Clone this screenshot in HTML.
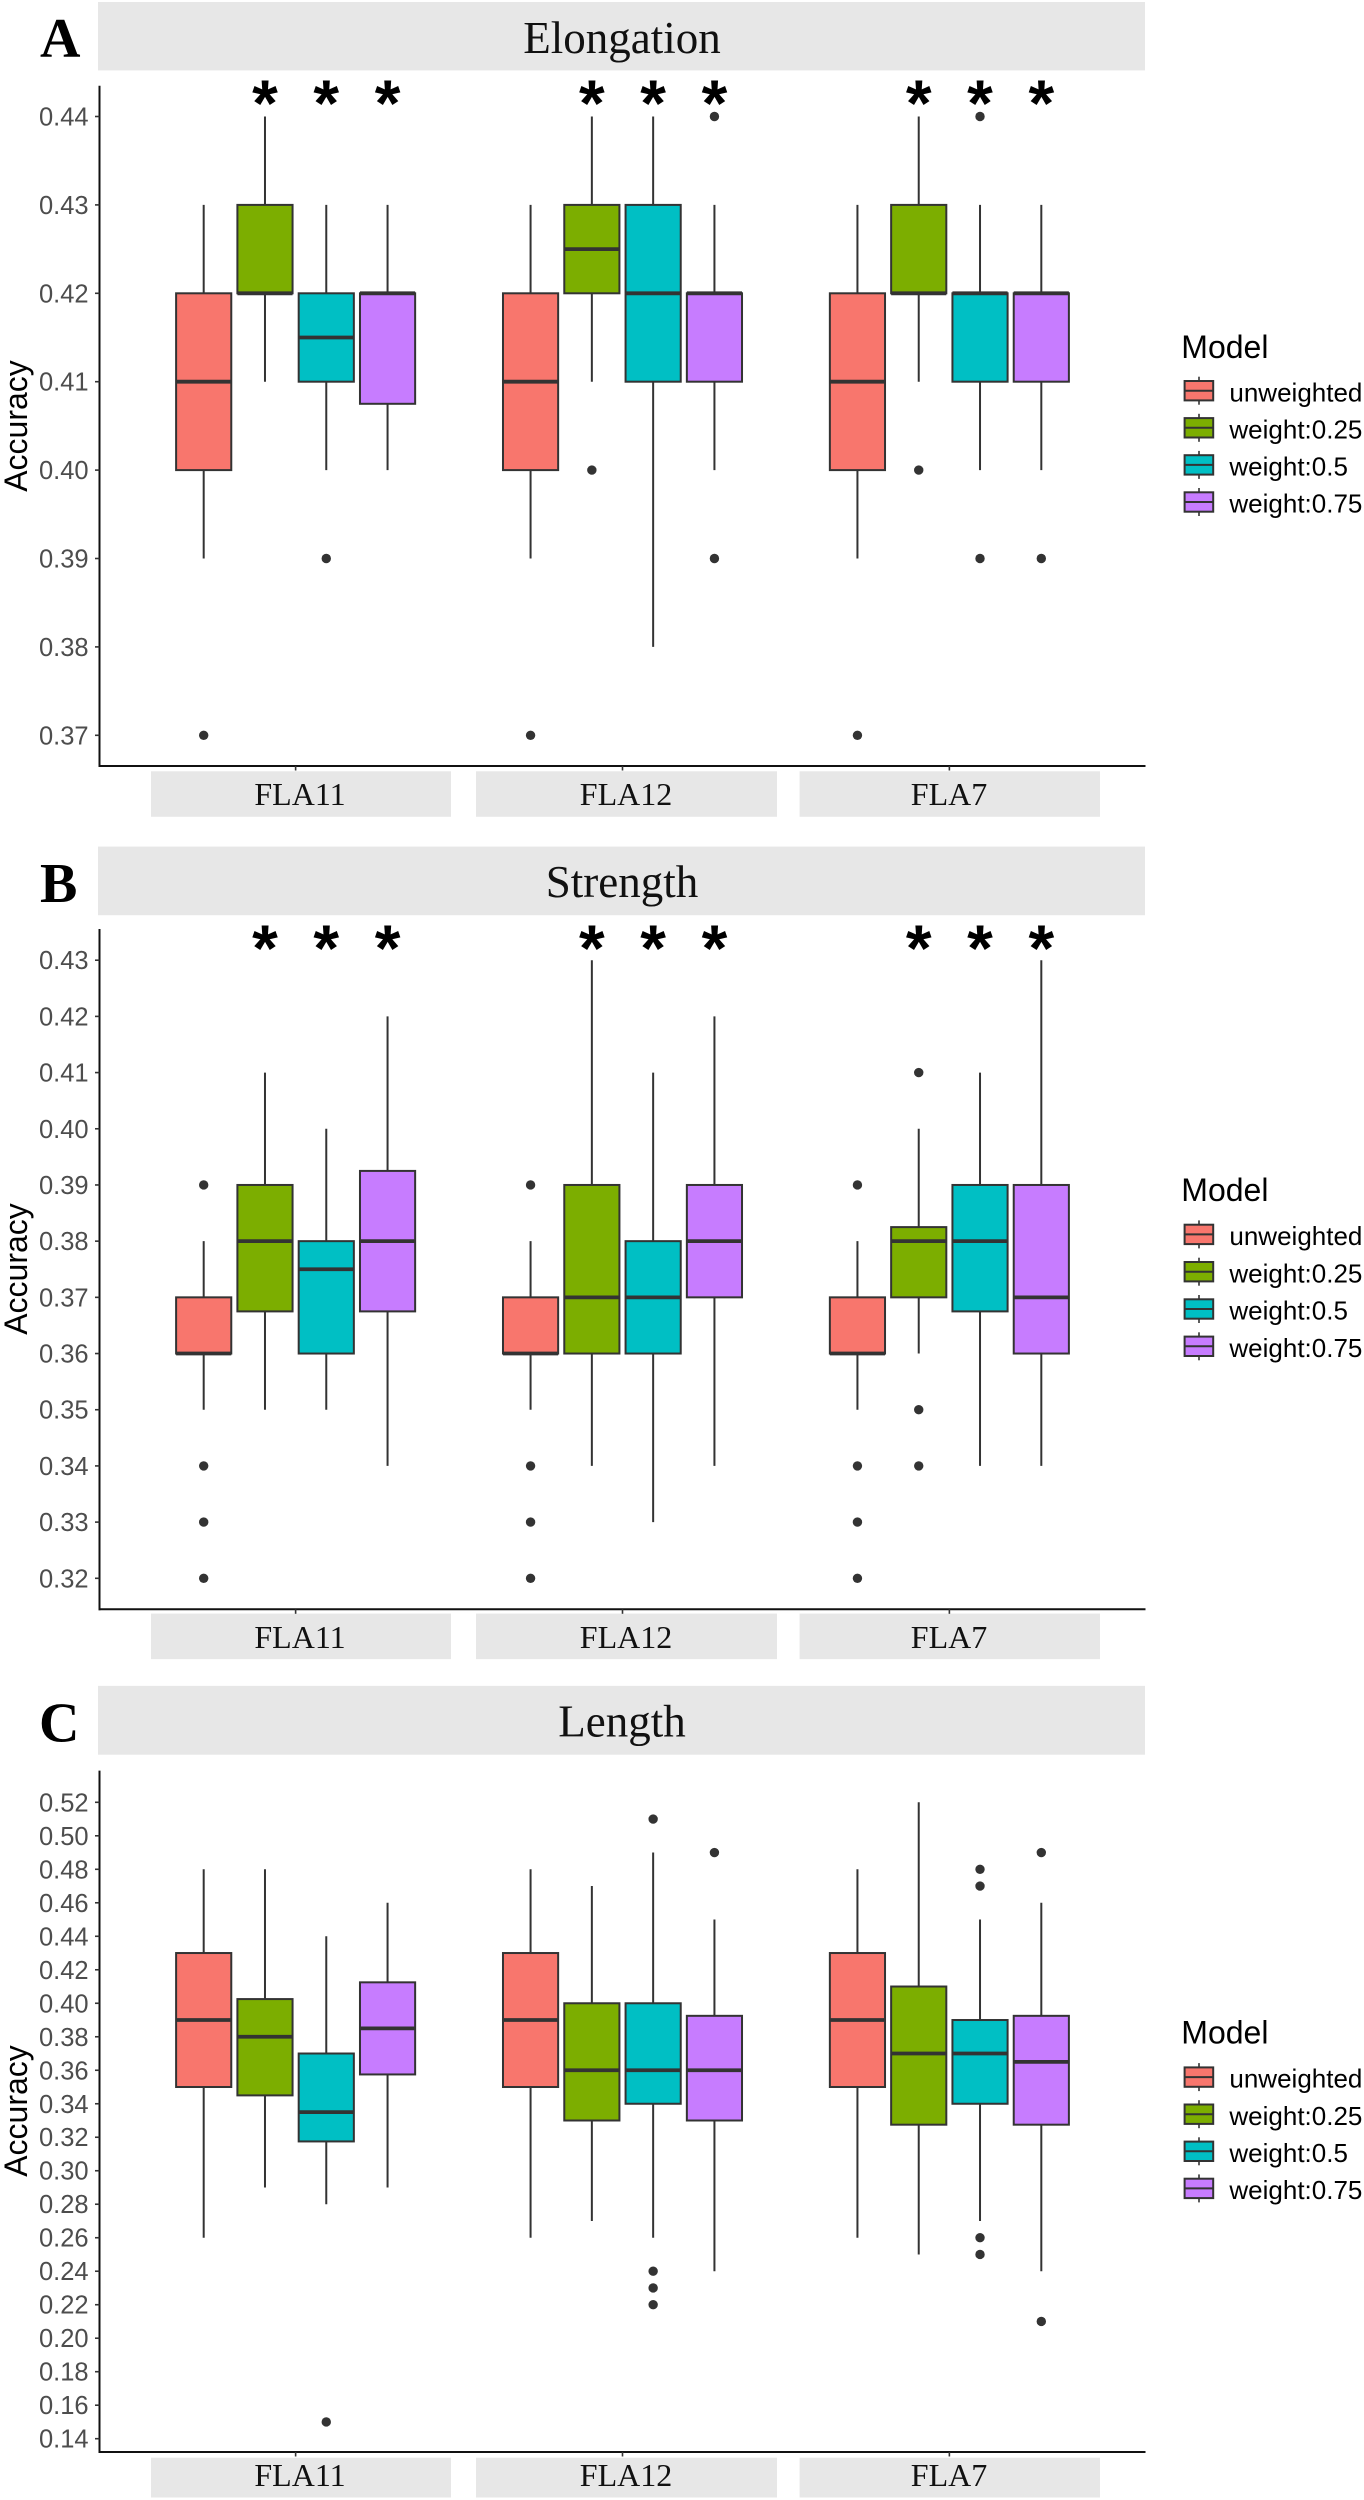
<!DOCTYPE html>
<html lang="en">
<head>
<meta charset="utf-8">
<title>Accuracy boxplots: Elongation, Strength, Length</title>
<style>
  html, body { margin: 0; padding: 0; background: #fff; }
  svg { display: block; }
  .strip { fill: #e7e7e7; }
  .title { font-family: "Liberation Serif", serif; font-size: 45px; fill: #111; text-anchor: middle; }
  .facet { font-family: "Liberation Serif", serif; font-size: 32px; fill: #111; text-anchor: middle; }
  .letter { font-family: "Liberation Serif", serif; font-weight: bold; font-size: 56px; fill: #000; }
  .ytitle { font-family: "Liberation Sans", sans-serif; font-size: 32px; fill: #000; text-anchor: middle; }
  .legend-title { font-family: "Liberation Sans", sans-serif; font-size: 32px; fill: #000; }
  .legend-label { font-family: "Liberation Sans", sans-serif; font-size: 26px; fill: #000; }
  .tick-label { font-family: "Liberation Sans", sans-serif; font-size: 25.5px; fill: #4d4d4d; text-anchor: end; }
  .star { font-family: "Liberation Sans", sans-serif; font-weight: bold; font-size: 66px; fill: #000; text-anchor: middle; }
</style>
</head>
<body>
<svg id="chart" xmlns="http://www.w3.org/2000/svg" width="1364" height="2500" viewBox="0 0 1364 2500">
  <rect x="0" y="0" width="1364" height="2500" fill="#ffffff"/>

  <!-- Panel A -->
  <g>
    <rect class="strip" x="98" y="2" width="1047" height="68.4"/>
    <text class="letter" x="40" y="57">A</text>
    <text class="title" x="622" y="53">Elongation</text>
    <rect class="strip" x="151" y="771.3" width="300" height="45.5"/>
    <rect class="strip" x="476" y="771.3" width="301" height="45.5"/>
    <rect class="strip" x="799.6" y="771.3" width="300.4" height="45.5"/>
    <text class="facet" x="300" y="805">FLA11</text>
    <text class="facet" x="626" y="805">FLA12</text>
    <text class="facet" x="949" y="805">FLA7</text>
    <text class="ytitle" transform="translate(27 426) rotate(-90)">Accuracy</text>
    <g>
      <text class="legend-title" x="1181.3" y="358">Model</text>
      <text class="legend-label" x="1229.4" y="401.3">unweighted</text>
      <text class="legend-label" x="1229.4" y="438.4">weight:0.25</text>
      <text class="legend-label" x="1229.4" y="475.5">weight:0.5</text>
      <text class="legend-label" x="1229.4" y="512.6">weight:0.75</text>
    </g>
  </g>

  <!-- Panel B -->
  <g>
    <rect class="strip" x="98" y="846.6" width="1047" height="68.6"/>
    <text class="letter" x="40" y="902">B</text>
    <text class="title" x="622" y="897">Strength</text>
    <rect class="strip" x="151" y="1613.6" width="300" height="45.5"/>
    <rect class="strip" x="476" y="1613.6" width="301" height="45.5"/>
    <rect class="strip" x="799.6" y="1613.6" width="300.4" height="45.5"/>
    <text class="facet" x="300" y="1648">FLA11</text>
    <text class="facet" x="626" y="1648">FLA12</text>
    <text class="facet" x="949" y="1648">FLA7</text>
    <text class="ytitle" transform="translate(27 1269) rotate(-90)">Accuracy</text>
    <g>
      <text class="legend-title" x="1181.3" y="1201.2">Model</text>
      <text class="legend-label" x="1229.4" y="1245">unweighted</text>
      <text class="legend-label" x="1229.4" y="1282.3">weight:0.25</text>
      <text class="legend-label" x="1229.4" y="1319.6">weight:0.5</text>
      <text class="legend-label" x="1229.4" y="1356.9">weight:0.75</text>
    </g>
  </g>

  <!-- Panel C -->
  <g>
    <rect class="strip" x="98" y="1685.9" width="1047" height="68.8"/>
    <text class="letter" x="39" y="1741.5">C</text>
    <text class="title" x="622" y="1736.7">Length</text>
    <rect class="strip" x="151" y="2457.7" width="300" height="39.8"/>
    <rect class="strip" x="476" y="2457.7" width="301" height="39.8"/>
    <rect class="strip" x="799.6" y="2457.7" width="300.4" height="39.8"/>
    <text class="facet" x="300" y="2486">FLA11</text>
    <text class="facet" x="626" y="2486">FLA12</text>
    <text class="facet" x="949" y="2486">FLA7</text>
    <text class="ytitle" transform="translate(27 2111) rotate(-90)">Accuracy</text>
    <g>
      <text class="legend-title" x="1181.3" y="2043.7">Model</text>
      <text class="legend-label" x="1229.4" y="2087.7">unweighted</text>
      <text class="legend-label" x="1229.4" y="2124.8">weight:0.25</text>
      <text class="legend-label" x="1229.4" y="2161.9">weight:0.5</text>
      <text class="legend-label" x="1229.4" y="2199">weight:0.75</text>
    </g>
  </g>
</svg>

<script>
/* Shared categories (each stat array below runs FLA11 x4 models, FLA12 x4, FLA7 x4) */
const genes = ["FLA11", "FLA12", "FLA7"];
const models = ["unweighted", "weight:0.25", "weight:0.5", "weight:0.75"];
const modelColors = ["#F8766D", "#7CAE00", "#00BFC4", "#C77CFF"];

/* Elongation */
const elongationTicks = ["0.44", "0.43", "0.42", "0.41", "0.40", "0.39", "0.38", "0.37"];
const elongationLow = [0.39, 0.41, 0.40, 0.40, 0.39, 0.41, 0.38, 0.40, 0.39, 0.41, 0.40, 0.40];
const elongationQ1 = [0.40, 0.42, 0.41, 0.4075, 0.40, 0.42, 0.41, 0.41, 0.40, 0.42, 0.41, 0.41];
const elongationMedian = [0.41, 0.42, 0.415, 0.42, 0.41, 0.425, 0.42, 0.42, 0.41, 0.42, 0.42, 0.42];
const elongationQ3 = [0.42, 0.43, 0.42, 0.42, 0.42, 0.43, 0.43, 0.42, 0.42, 0.43, 0.42, 0.42];
const elongationHigh = [0.43, 0.44, 0.43, 0.43, 0.43, 0.44, 0.44, 0.43, 0.43, 0.44, 0.43, 0.43];
const elongationOutliers = [[0.37], [], [0.39], [], [0.37], [0.40], [], [0.44, 0.39], [0.37], [0.40], [0.44, 0.39], [0.39]];
const elongationStars = [0, 1, 1, 1, 0, 1, 1, 1, 0, 1, 1, 1];

/* Strength */
const strengthTicks = ["0.43", "0.42", "0.41", "0.40", "0.39", "0.38", "0.37", "0.36", "0.35", "0.34", "0.33", "0.32"];
const strengthLow = [0.35, 0.35, 0.35, 0.34, 0.35, 0.34, 0.33, 0.34, 0.35, 0.36, 0.34, 0.34];
const strengthQ1 = [0.36, 0.3675, 0.36, 0.3675, 0.36, 0.36, 0.36, 0.37, 0.36, 0.37, 0.3675, 0.36];
const strengthMedian = [0.36, 0.38, 0.375, 0.38, 0.36, 0.37, 0.37, 0.38, 0.36, 0.38, 0.38, 0.37];
const strengthQ3 = [0.37, 0.39, 0.38, 0.3925, 0.37, 0.39, 0.38, 0.39, 0.37, 0.3825, 0.39, 0.39];
const strengthHigh = [0.38, 0.41, 0.40, 0.42, 0.38, 0.43, 0.41, 0.42, 0.38, 0.40, 0.41, 0.43];
const strengthOutliers = [[0.39, 0.34, 0.33, 0.32], [], [], [], [0.39, 0.34, 0.33, 0.32], [], [], [], [0.39, 0.34, 0.33, 0.32], [0.41, 0.35, 0.34], [], []];
const strengthStars = [0, 1, 1, 1, 0, 1, 1, 1, 0, 1, 1, 1];

/* Length */
const lengthTicks = ["0.52", "0.50", "0.48", "0.46", "0.44", "0.42", "0.40", "0.38", "0.36", "0.34", "0.32", "0.30", "0.28", "0.26", "0.24", "0.22", "0.20", "0.18", "0.16", "0.14"];
const lengthLow = [0.26, 0.29, 0.28, 0.29, 0.26, 0.27, 0.26, 0.24, 0.26, 0.25, 0.27, 0.24];
const lengthQ1 = [0.35, 0.345, 0.3175, 0.3575, 0.35, 0.33, 0.34, 0.33, 0.35, 0.3275, 0.34, 0.3275];
const lengthMedian = [0.39, 0.38, 0.335, 0.385, 0.39, 0.36, 0.36, 0.36, 0.39, 0.37, 0.37, 0.365];
const lengthQ3 = [0.43, 0.4025, 0.37, 0.4125, 0.43, 0.40, 0.40, 0.3925, 0.43, 0.41, 0.39, 0.3925];
const lengthHigh = [0.48, 0.48, 0.44, 0.46, 0.48, 0.47, 0.49, 0.45, 0.48, 0.52, 0.45, 0.46];
const lengthOutliers = [[], [], [0.15], [], [], [], [0.51, 0.24, 0.23, 0.22], [0.49], [], [], [0.48, 0.47, 0.26, 0.25], [0.49, 0.21]];
const lengthStars = [0, 0, 0, 0, 0, 0, 0, 0, 0, 0, 0, 0];

const NS = "http://www.w3.org/2000/svg";
const chart = document.getElementById("chart");
const AXIS_LEFT = 99.5;
const AXIS_RIGHT = 1145.5;
const BAND = (AXIS_RIGHT - AXIS_LEFT) / 3.2;
const DODGE = BAND * 0.75 / 4;
const BOX_WIDTH = DODGE * 0.9;
const INK = "#333333";

function make(tag, parent, attrs) {
  const node = document.createElementNS(NS, tag);
  for (const key in attrs) node.setAttribute(key, attrs[key]);
  parent.appendChild(node);
  return node;
}

function groupX(g) { return AXIS_LEFT + (0.6 + g) * BAND; }
function boxX(g, m) { return groupX(g) + (m - 1.5) * DODGE; }

function linearY(ticks, firstPx, lastPx) {
  const hi = Number(ticks[0]);
  const lo = Number(ticks[ticks.length - 1]);
  return function (v) { return firstPx + (hi - v) * (lastPx - firstPx) / (hi - lo); };
}

function drawAxes(name, ticks, y, top, bottom) {
  const axes = make("g", chart, {});
  
  
  const yLine = make("line", axes, { x1: AXIS_LEFT, x2: AXIS_LEFT, y1: top, y2: bottom + 1, stroke: "#111", "stroke-width": 2 });
  
  
  const xLine = make("line", axes, { x1: AXIS_LEFT - 1, x2: AXIS_RIGHT, y1: bottom, y2: bottom, stroke: "#111", "stroke-width": 2 });
  
  
  ticks.forEach(function (label) {
    const py = y(Number(label));
    const tick = make("line", axes, { x1: AXIS_LEFT - 4.5, x2: AXIS_LEFT, y1: py, y2: py, stroke: "#333", "stroke-width": 1.6 });
    
    
    const text = make("text", axes, { class: "tick-label", x: 88.6, y: py + 9 });
    
    
    text.textContent = label;
  });
  genes.forEach(function (gene, g) {
    const tick = make("line", axes, { x1: groupX(g), x2: groupX(g), y1: bottom, y2: bottom + 4.5, stroke: "#333", "stroke-width": 1.6 });
    
    
  });
}

function drawBoxes(name, y, low, q1, median, q3, high, outliers, stars, starY) {
  const layer = make("g", chart, {});
  
  
  genes.forEach(function (gene, g) {
    models.forEach(function (model, m) {
      const i = g * 4 + m;
      const cx = boxX(g, m);
      const group = make("g", layer, {});
      
      
      make("line", group, { x1: cx, x2: cx, y1: y(high[i]), y2: y(low[i]), stroke: INK, "stroke-width": 2 });
      make("rect", group, {
        x: cx - BOX_WIDTH / 2, y: y(q3[i]), width: BOX_WIDTH, height: y(q1[i]) - y(q3[i]),
        fill: modelColors[m], stroke: INK, "stroke-width": 2
      });
      make("line", group, {
        x1: cx - BOX_WIDTH / 2, x2: cx + BOX_WIDTH / 2, y1: y(median[i]), y2: y(median[i]),
        stroke: INK, "stroke-width": 3.8
      });
      outliers[i].forEach(function (v) {
        const dot = make("circle", group, { cx: cx, cy: y(v), r: 4.7, fill: INK });
        
        
      });
      if (stars[i]) {
        const star = make("text", group, { class: "star", x: cx, y: starY });
        
        
        star.textContent = "*";
      }
    });
  });
}

function drawLegendKeys(name, firstCenter, step) {
  const keys = make("g", chart, {});
  
  
  models.forEach(function (model, m) {
    const cy = firstCenter + m * step;
    const key = make("g", keys, {});
    
    
    make("line", key, { x1: 1199, x2: 1199, y1: cy - 14, y2: cy + 14, stroke: INK, "stroke-width": 1.6 });
    make("rect", key, { x: 1184.6, y: cy - 9.7, width: 28.6, height: 19.4, fill: modelColors[m], stroke: INK, "stroke-width": 2 });
    make("line", key, { x1: 1184.6, x2: 1213.2, y1: cy, y2: cy, stroke: INK, "stroke-width": 2 });
  });
}

const elongationY = linearY(elongationTicks, 116.5, 735.3);
const strengthY = linearY(strengthTicks, 960.2, 1578.3);
const lengthY = linearY(lengthTicks, 1802.3, 2438.7);

drawAxes("elongation", elongationTicks, elongationY, 85.8, 766);
drawAxes("strength", strengthTicks, strengthY, 929, 1609.3);
drawAxes("length", lengthTicks, lengthY, 1770.6, 2452);

drawBoxes("elongation", elongationY, elongationLow, elongationQ1, elongationMedian, elongationQ3, elongationHigh, elongationOutliers, elongationStars, 126);
drawBoxes("strength", strengthY, strengthLow, strengthQ1, strengthMedian, strengthQ3, strengthHigh, strengthOutliers, strengthStars, 971);
drawBoxes("length", lengthY, lengthLow, lengthQ1, lengthMedian, lengthQ3, lengthHigh, lengthOutliers, lengthStars, 0);

drawLegendKeys("elongation", 390.7, 37.1);
drawLegendKeys("strength", 1234.4, 37.3);
drawLegendKeys("length", 2077.1, 37.1);
</script>
</body>
</html>
